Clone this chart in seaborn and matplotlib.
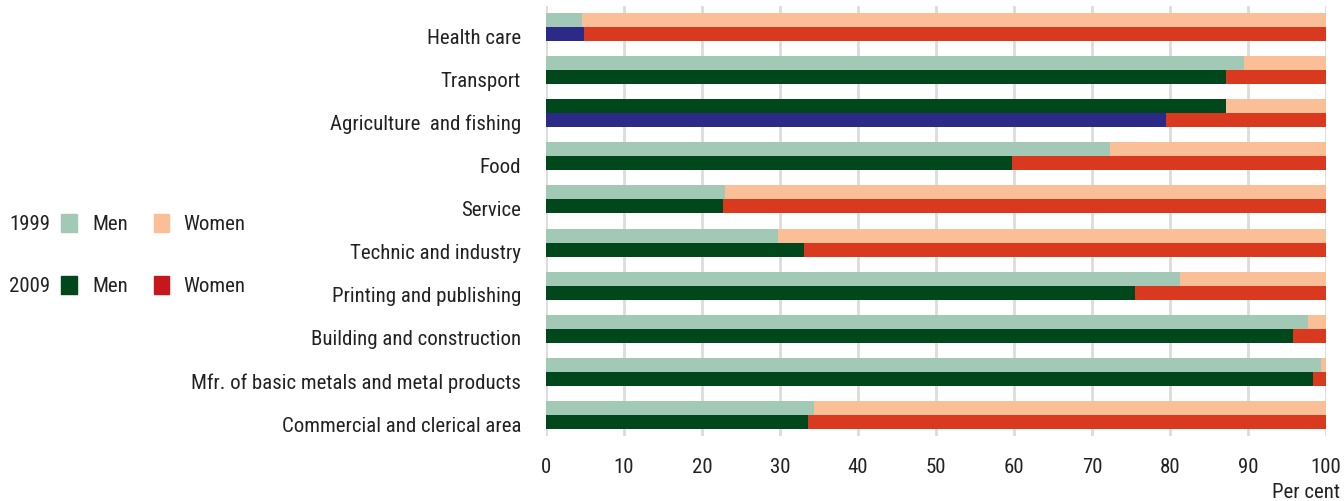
import numpy as np
import pandas as pd
import matplotlib
matplotlib.use("Agg")
import matplotlib.pyplot as plt
from matplotlib.patches import Rectangle
import seaborn as sns

categories = ["Health care", "Transport", "Agriculture  and fishing", "Food", "Service",
              "Technic and industry", "Printing and publishing", "Building and construction",
              "Mfr. of basic metals and metal products", "Commercial and clerical area"]
men_1999 = [4.6, 89.5, 87.2, 72.3, 23.0, 29.7, 81.3, 97.7, 99.3, 34.4]
men_2009 = [4.9, 87.2, 79.5, 59.7, 22.7, 33.1, 75.5, 95.8, 98.3, 33.6]
years = ["1999", "2009"]

df = pd.concat([
    pd.DataFrame({"category": categories, "year": "1999", "men": men_1999}),
    pd.DataFrame({"category": categories, "year": "2009", "men": men_2009}),
])
df["total"] = 100.0

light_green, peach = "#a2c9b6", "#fbbf98"
dark_green, red, navy = "#00471b", "#d93a1f", "#2b2a86"
# odd colours used in the original for a few bars
men_override = {("Health care", "2009"): navy,
                ("Agriculture  and fishing", "1999"): dark_green,
                ("Agriculture  and fishing", "2009"): navy}

sns.set_style("white")
plt.rcParams["font.family"] = ["Roboto Condensed", "DejaVu Sans"]
fs = 15
txt = "#222222"

fig = plt.figure(figsize=(13.44, 5.02), dpi=100)
ax = fig.add_axes([0.40625, 0.1285, 0.58036, 0.8585])

sns.barplot(data=df, y="category", x="total", hue="year", hue_order=years,
            palette=[peach, red], width=0.65, errorbar=None, legend=False, ax=ax,
            saturation=1)
n_women = len(ax.patches)
sns.barplot(data=df, y="category", x="men", hue="year", hue_order=years,
            palette=[light_green, dark_green], width=0.65, errorbar=None, legend=False, ax=ax,
            saturation=1)
men_patches = ax.patches[n_women:]
for i, yr in enumerate(years):
    for j, cat in enumerate(categories):
        p = men_patches[i * len(categories) + j]
        if (cat, yr) in men_override:
            p.set_facecolor(men_override[(cat, yr)])
for p in ax.patches:
    p.set_edgecolor("none")
    p.set_linewidth(0)

ax.set_xlim(0, 100)
ax.set_xticks(np.arange(0, 101, 10))
ax.set_ylim(len(categories) - 0.5, -0.5)
# labels sit a little below the middle of each pair
ax.set_yticks(np.arange(len(categories)) + 0.19, categories)
ax.set_xlabel("")
ax.set_ylabel("")
ax.grid(axis="x", color="#dcdcdc", linewidth=2)
ax.set_axisbelow(True)
for s in ax.spines.values():
    s.set_visible(False)
ax.tick_params(axis="both", length=0, colors=txt, labelsize=fs)
ax.tick_params(axis="x", pad=15)
ax.tick_params(axis="y", pad=18)

fig.text(0.997, 0.018, "Per cent", ha="right", va="center", fontsize=fs, color=txt)

# legend
rows = [("1999", light_green, peach, 1 - 224 / 502), ("2009", dark_green, "#c8161d", 1 - 286 / 502)]
for yr, cm, cw, yy in rows:
    fig.text(9 / 1344, yy, yr, ha="left", va="center", fontsize=fs, color=txt)
    fig.patches.append(Rectangle((61 / 1344, yy - 0.017), 16 / 1344, 0.034,
                                 transform=fig.transFigure, color=cm))
    fig.text(92 / 1344, yy, "Men", ha="left", va="center", fontsize=fs, color=txt)
    fig.patches.append(Rectangle((154 / 1344, yy - 0.017), 15 / 1344, 0.034,
                                 transform=fig.transFigure, color=cw))
    fig.text(183 / 1344, yy, "Women", ha="left", va="center", fontsize=fs, color=txt)

fig.savefig("out.png", dpi=100)
